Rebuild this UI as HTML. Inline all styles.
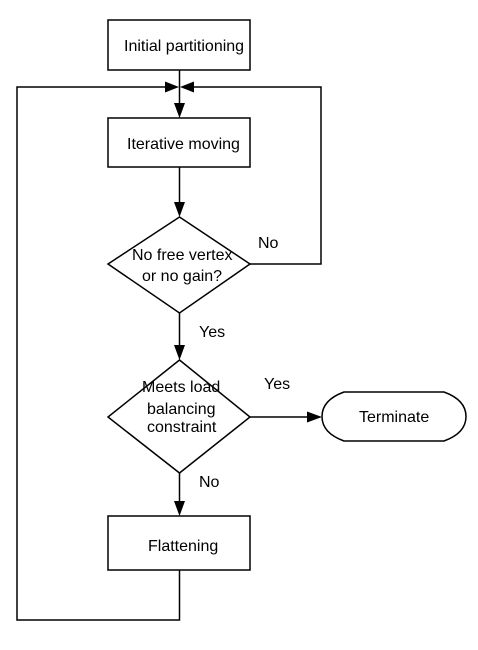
<!DOCTYPE html>
<html><head><style>html,body{margin:0;padding:0;background:#fff}svg{display:block}text{font-family:"Liberation Sans",sans-serif;font-size:16px;fill:#000}</style></head>
<body>
<svg width="478" height="650" viewBox="0 0 478 650" xmlns="http://www.w3.org/2000/svg">
<g fill="none" stroke="#000" stroke-width="1.5">
<rect x="108" y="20" width="142" height="50"/>
<rect x="108" y="118" width="142" height="49"/>
<polygon points="179.5,217 250,264 179.5,313 108,264"/>
<polygon points="179.5,360 250,417 179.5,473 108,417"/>
<rect x="108" y="516" width="142" height="54"/>
<path d="M344,392 L444,392 Q466,400 466,416.5 Q466,433 444,441 L344,441 Q322,433 322,416.5 Q322,400 344,392 Z"/>
<line x1="179.5" y1="70" x2="179.5" y2="108"/>
<line x1="179.5" y1="167" x2="179.5" y2="207"/>
<line x1="179.5" y1="313" x2="179.5" y2="350"/>
<line x1="179.5" y1="473" x2="179.5" y2="506"/>
<line x1="250" y1="417" x2="312" y2="417"/>
<polyline points="250,264 321,264 321,87 190,87"/>
<polyline points="179.5,570 179.5,620 17,620 17,87 169,87"/>
</g>
<g fill="#000">
<polygon points="174,103 185,103 179.5,118"/>
<polygon points="174,202 185,202 179.5,217"/>
<polygon points="174,345 185,345 179.5,360"/>
<polygon points="174,501 185,501 179.5,516"/>
<polygon points="307,411.5 307,422.5 322,417"/>
<polygon points="165,81.5 165,92.5 179,87"/>
<polygon points="194,81.5 194,92.5 180,87"/>
</g>
<text x="124" y="51">Initial partitioning</text>
<text x="127" y="149">Iterative moving</text>
<text x="132" y="260">No free vertex</text>
<text x="142" y="281">or no gain?</text>
<text x="142" y="392">Meets load</text>
<text x="147" y="414">balancing</text>
<text x="147" y="432">constraint</text>
<text x="148" y="551">Flattening</text>
<text x="359" y="422">Terminate</text>
<text x="258" y="248">No</text>
<text x="199" y="337">Yes</text>
<text x="264" y="389">Yes</text>
<text x="199" y="487">No</text>
</svg>
</body></html>
